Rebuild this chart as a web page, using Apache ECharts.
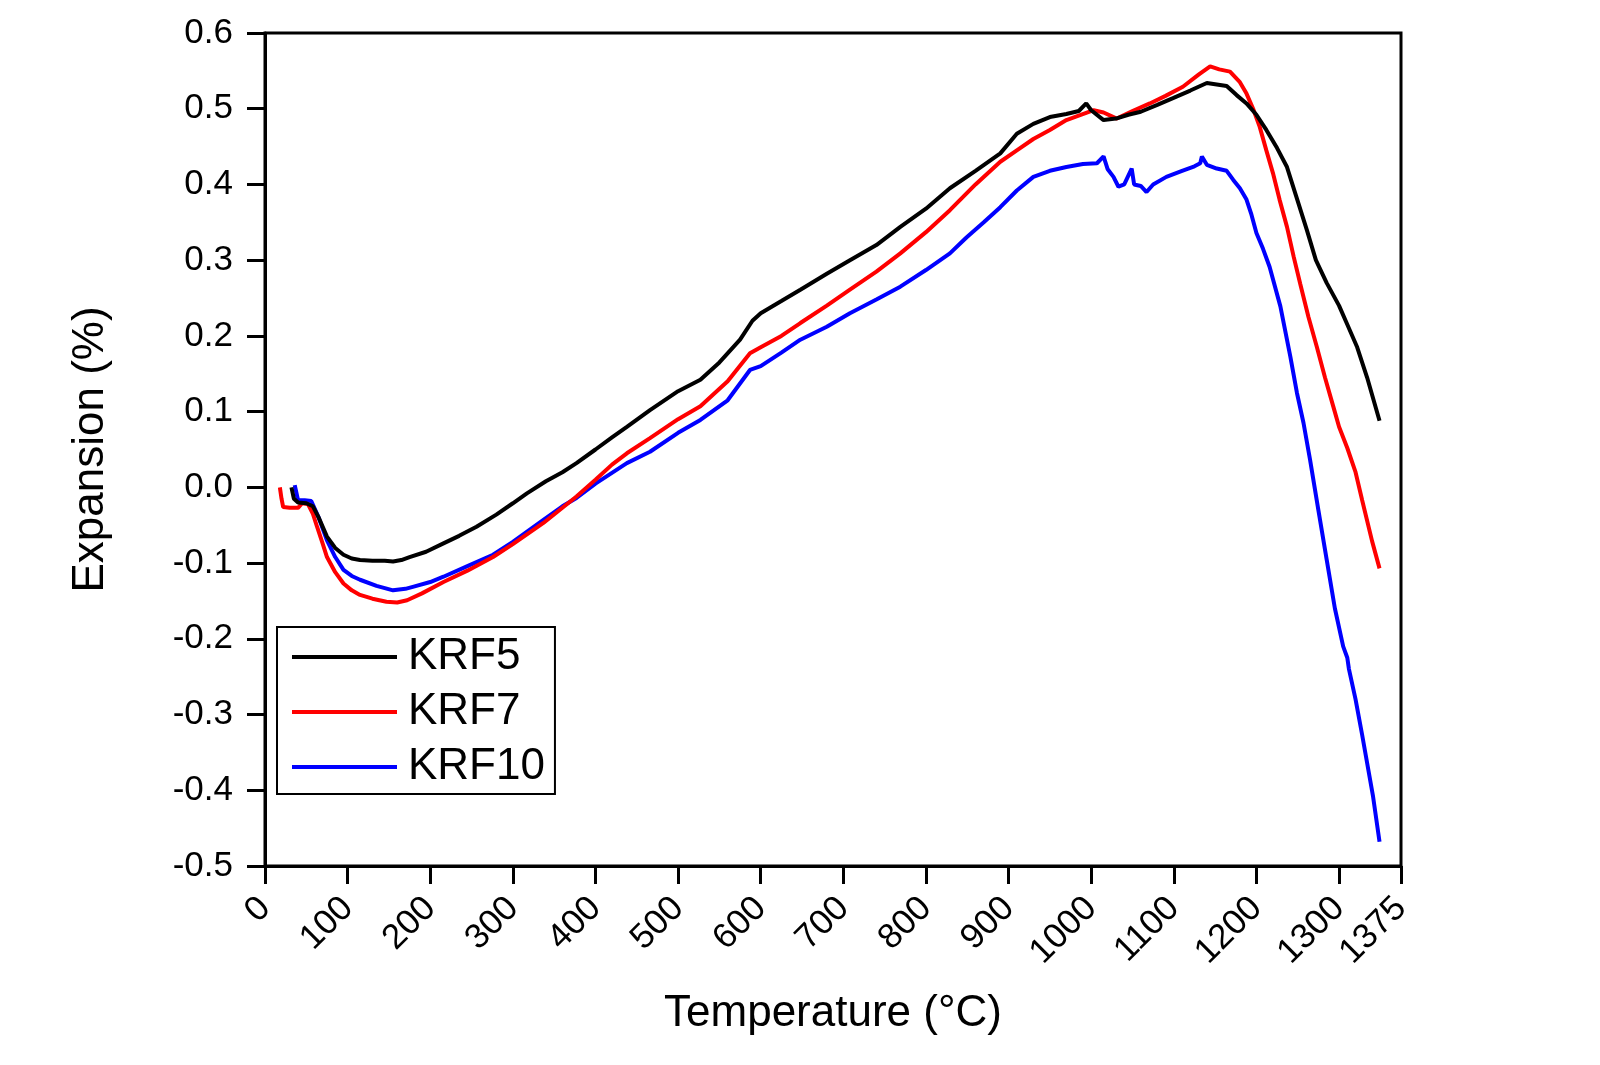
<!DOCTYPE html>
<html>
<head>
<meta charset="utf-8">
<title>Expansion vs temperature</title>
<script src="https://cdn.jsdelivr.net/npm/echarts@6/dist/echarts.min.js"></script>
<style>
  html, body { margin: 0; padding: 0; background: #fff; }
  #main { width: 1600px; height: 1065px; }
</style>
</head>
<body>
<div id="main"></div>
<script>
  // series names
  const names = ['KRF5', 'KRF7', 'KRF10'];

  // KRF5 (black)
  const krf5Temp = [32, 35, 40, 50, 58, 65, 75, 85, 95, 105, 115, 130, 145, 155, 165, 175, 195, 216, 235, 256,
    280, 300, 317, 340, 360, 377, 400, 420, 438, 466, 500, 527, 550, 575, 590, 600, 625, 648, 680, 708,
    740, 769, 800, 829, 860, 890, 910, 930, 950, 970, 985, 994, 1000, 1015, 1030, 1045, 1060, 1080, 1099, 1120,
    1140, 1164, 1176, 1188, 1200, 1212, 1225, 1237, 1248, 1261, 1272, 1285, 1300, 1310, 1322, 1334, 1349];
  const krf5Exp = [0.0, -0.015, -0.02, -0.021, -0.025, -0.04, -0.065, -0.08, -0.089, -0.094, -0.096, -0.097, -0.097, -0.098, -0.096, -0.092, -0.085, -0.074, -0.064, -0.052,
    -0.036, -0.021, -0.008, 0.008, 0.02, 0.032, 0.05, 0.066, 0.08, 0.102, 0.127, 0.142, 0.165, 0.195, 0.22, 0.23, 0.246, 0.261, 0.282, 0.3,
    0.32, 0.344, 0.368, 0.395, 0.418, 0.441, 0.467, 0.48, 0.489, 0.493, 0.497, 0.507, 0.498, 0.485, 0.487, 0.492, 0.496, 0.505, 0.514, 0.524,
    0.534, 0.53, 0.518, 0.507, 0.492, 0.472, 0.448, 0.423, 0.385, 0.34, 0.3, 0.27, 0.24, 0.215, 0.185, 0.145, 0.088];

  // KRF7 (red)
  const krf7Temp = [18, 20, 22, 30, 40, 45, 52, 58, 63, 70, 75, 85, 95, 105, 115, 130, 147, 160, 172, 190,
    216, 245, 276, 300, 337, 360, 377, 400, 420, 438, 466, 500, 527, 560, 587, 600, 625, 648, 680, 708,
    740, 769, 800, 829, 860, 890, 910, 930, 950, 970, 1003, 1015, 1031, 1050, 1071, 1090, 1111, 1130, 1144, 1155,
    1168, 1180, 1188, 1196, 1204, 1212, 1220, 1228, 1237, 1245, 1253, 1263, 1273, 1283, 1293, 1300, 1310, 1320, 1328, 1340, 1349];
  const krf7Exp = [0.0, -0.015, -0.026, -0.027, -0.027, -0.021, -0.022, -0.035, -0.052, -0.075, -0.092, -0.112, -0.127, -0.136, -0.142, -0.147, -0.151, -0.152, -0.149, -0.14,
    -0.125, -0.11, -0.092, -0.075, -0.047, -0.027, -0.012, 0.01, 0.03, 0.045, 0.065, 0.09, 0.107, 0.14, 0.177, 0.185, 0.2, 0.217, 0.24, 0.261,
    0.285, 0.309, 0.337, 0.366, 0.4, 0.43, 0.445, 0.46, 0.472, 0.485, 0.498, 0.495, 0.487, 0.497, 0.507, 0.517, 0.529, 0.545, 0.556, 0.552,
    0.549, 0.535, 0.52, 0.5, 0.476, 0.445, 0.415, 0.38, 0.344, 0.305, 0.269, 0.225, 0.186, 0.145, 0.107, 0.08, 0.052, 0.02, -0.017, -0.071, -0.107];

  // KRF10 (blue)
  const krf10Temp = [36, 40, 48, 56, 65, 75, 85, 95, 105, 115, 135, 155, 170, 180, 200, 216, 245, 276, 300, 337,
    360, 377, 400, 438, 466, 500, 527, 560, 587, 600, 625, 648, 680, 708, 740, 769, 800, 829, 849, 870,
    890, 910, 930, 950, 970, 990, 1007, 1015, 1020, 1027, 1033, 1040, 1049, 1052, 1060, 1067, 1075, 1091, 1110, 1125,
    1132, 1134, 1140, 1152, 1164, 1172, 1180, 1188, 1194, 1200, 1208, 1216, 1229, 1241, 1249, 1257, 1265, 1275, 1285, 1295,
    1305, 1310, 1312, 1320, 1328, 1341, 1349];
  const krf10Exp = [0.003, -0.017, -0.017, -0.018, -0.04, -0.07, -0.092, -0.109, -0.117, -0.122, -0.13, -0.136, -0.134, -0.131, -0.125, -0.118, -0.104, -0.089, -0.072, -0.043,
    -0.025, -0.014, 0.005, 0.032, 0.047, 0.072, 0.089, 0.115, 0.155, 0.16, 0.178, 0.195, 0.212, 0.23, 0.248, 0.265, 0.287, 0.309, 0.33, 0.35,
    0.37, 0.392, 0.41, 0.418, 0.423, 0.427, 0.428, 0.437, 0.42, 0.41, 0.397, 0.4, 0.421, 0.4, 0.398, 0.39, 0.4, 0.41, 0.418, 0.424,
    0.428, 0.437, 0.426, 0.421, 0.418, 0.406, 0.395, 0.38, 0.36, 0.336, 0.315, 0.291, 0.239, 0.173, 0.125, 0.085, 0.036, -0.03, -0.095, -0.16,
    -0.21, -0.225, -0.24, -0.28, -0.327, -0.407, -0.468];

  const colors = ['#000000', '#ff0000', '#0000ff'];

  function zip(xs, ys) {
    return xs.map((x, i) => [x, ys[i]]);
  }
  const seriesData = [zip(krf5Temp, krf5Exp), zip(krf7Temp, krf7Exp), zip(krf10Temp, krf10Exp)];

  const font = 'Liberation Sans, Arial, sans-serif';

  let myEchart = echarts.init(document.getElementById('main'));
  myEchart.setOption({
    animation: false,
    backgroundColor: '#ffffff',
    color: colors,
    grid: {
      left: 265,
      right: 199,
      top: 33,
      bottom: 199,
      show: true,
      borderColor: '#000',
      borderWidth: 3,
      containLabel: false
    },
    legend: {
      orient: 'vertical',
      left: 277,
      top: 627,
      icon: 'rect',
      itemWidth: 105,
      itemHeight: 4,
      itemGap: 5,
      padding: [5, 10, 2, 15],
      borderColor: '#000',
      borderWidth: 2,
      data: names,
      textStyle: {
        fontFamily: font,
        fontSize: 44,
        lineHeight: 50,
        color: '#000',
        padding: [0, 0, 0, 6]
      }
    },
    xAxis: {
      type: 'value',
      min: 0,
      max: 1375,
      interval: 100,
      name: 'Temperature (°C)',
      nameLocation: 'middle',
      nameGap: 126,
      nameTextStyle: { fontFamily: font, fontSize: 44, color: '#000' },
      axisLine: { onZero: false, lineStyle: { color: '#000', width: 3 } },
      axisTick: { show: true, inside: false, length: 18, lineStyle: { color: '#000', width: 3 } },
      axisLabel: {
        rotate: 45,
        margin: 37,
        fontFamily: font,
        fontSize: 35,
        color: '#000',
        showMaxLabel: true,
        showMinLabel: true,
        formatter: function (v) { return String(Math.round(v)); }
      },
      splitLine: { show: false }
    },
    yAxis: {
      type: 'value',
      min: -0.5,
      max: 0.6,
      interval: 0.1,
      name: 'Expansion (%)',
      nameLocation: 'middle',
      nameRotate: 90,
      nameGap: 152,
      nameTextStyle: { fontFamily: font, fontSize: 44, color: '#000' },
      axisLine: { show: true, onZero: false, lineStyle: { color: '#000', width: 3 } },
      axisTick: { show: true, inside: false, length: 18, lineStyle: { color: '#000', width: 3 } },
      axisLabel: {
        margin: 32,
        fontFamily: font,
        fontSize: 35,
        color: '#000',
        formatter: function (v) {
          let s = v.toFixed(1);
          if (s === '-0.0') s = '0.0';
          return s;
        }
      },
      splitLine: { show: false }
    },
    series: names.map((n, i) => ({
      name: n,
      type: 'line',
      data: seriesData[i],
      showSymbol: false,
      symbol: 'none',
      lineStyle: { color: colors[i], width: 4 },
      itemStyle: { color: colors[i] },
      z: 3 - i
    }))
  });
  window.addEventListener('resize', myEchart.resize);
</script>
</body>
</html>
